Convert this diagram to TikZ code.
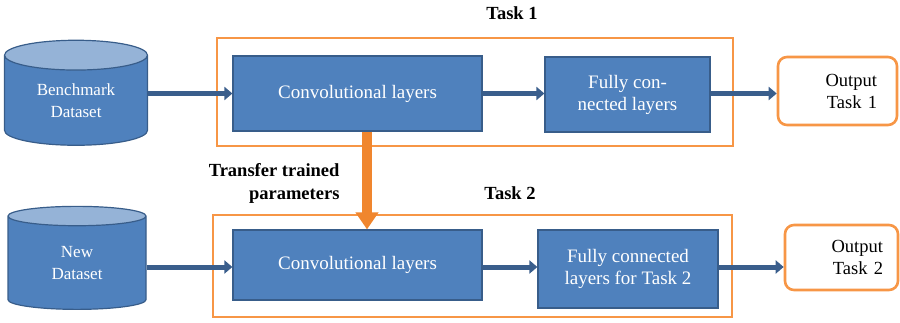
\documentclass[tikz,border=0pt]{standalone}
\usepackage{fontspec}
\setmainfont{Liberation Serif}
\newfontfamily\diagfont{Liberation Serif}
\usetikzlibrary{shapes.geometric,arrows.meta}
\definecolor{layerblue}{HTML}{4F81BD}
\definecolor{layeredge}{HTML}{385D8A}
\definecolor{flowblue}{HTML}{3A5E8C}
\definecolor{dbtop}{HTML}{95B3D7}
\definecolor{taskorange}{HTML}{F79646}
\definecolor{transferorange}{HTML}{F0862E}

\begin{document}
\begin{tikzpicture}[x=1pt, y=-1pt,
  layer/.style={rectangle, draw=layeredge, line width=1.2pt, fill=layerblue, text=white, align=center, inner sep=0pt, font=\diagfont\fontsize{19}{22}\selectfont},
  dataset/.style={cylinder, shape border rotate=90, aspect=0.38, draw=layeredge, line width=1.2pt, cylinder uses custom fill, cylinder body fill=layerblue, cylinder end fill=dbtop, text=white, align=center, inner sep=0pt, font=\diagfont\fontsize{17}{22}\selectfont},
  taskframe/.style={rectangle, draw=taskorange, line width=2.6pt, inner sep=0pt},
  output/.style={rectangle, draw=taskorange, line width=2.6pt, rounded corners=9pt, fill=white, align=right, font=\diagfont\fontsize{18.5}{22}\selectfont},
  tasklabel/.style={font=\diagfont\bfseries\fontsize{18.5}{23}\selectfont},
  flow/.style={-{Triangle[length=8pt, width=13pt]}, draw=flowblue, line width=5pt},
  transfer/.style={-{Triangle[length=17pt, width=22pt]}, draw=transferorange, line width=10pt}
]
\useasboundingbox (0,0) rectangle (900,322);

% task frames
\node[taskframe, minimum width=516pt, minimum height=108pt] (frame1) at (475,92) {};
\node[taskframe, minimum width=519pt, minimum height=102pt] (frame2) at (472.5,266) {};
\node[tasklabel] (task1) at (512,13) {Task 1};
\node[tasklabel] (task2) at (510,193) {Task 2};

% datasets
\node[dataset, minimum width=143pt, minimum height=105pt] (bench) at (76,100.5) {Benchmark\\Dataset};
\node[dataset, minimum width=138pt, minimum height=103pt] (new) at (77,263) {New\\Dataset};

% layers
\node[layer, minimum width=249pt, minimum height=75pt] (conv1) at (357.5,93.5) {Convolutional layers};
\node[layer, minimum width=165pt, minimum height=75pt] (fc1) at (627.5,94.5) {Fully con-\\nected layers};
\node[layer, minimum width=249pt, minimum height=70pt] (conv2) at (357.5,265) {Convolutional layers};
\node[layer, minimum width=180pt, minimum height=78pt] (fc2) at (628,269) {Fully connected\\layers for Task 2};

% outputs
\node[output, text width=79pt, inner xsep=20pt, minimum height=68pt] (out1) at (837.5,91) {Output\\Task 1};
\node[output, text width=83pt, inner xsep=15pt, minimum height=65pt] (out2) at (841.5,257.5) {Output\\Task 2};

% connectors
\draw[flow] (bench.east |- conv1.east) -- (conv1.west);
\draw[flow] (conv1.east) -- (conv1.east -| fc1.west);
\draw[flow] (fc1.east |- conv1.east) -- (conv1.east -| out1.west);
\draw[flow] ([yshift=-4pt]new.east) -- ([yshift=-4pt]new.east -| conv2.west);
\draw[flow] ([yshift=-4pt]conv2.east |- new.east) -- ([yshift=-4pt]new.east -| fc2.west);
\draw[flow] ([yshift=-4pt]fc2.east |- new.east) -- ([yshift=-4pt]new.east -| out2.west);

\draw[transfer] ([xshift=9.5pt]conv1.south) -- ([xshift=9.5pt]conv2.north);
\node[tasklabel, anchor=east, align=right] (transferlabel) at (343,183) {Transfer trained\\parameters};

\end{tikzpicture}
\end{document}
